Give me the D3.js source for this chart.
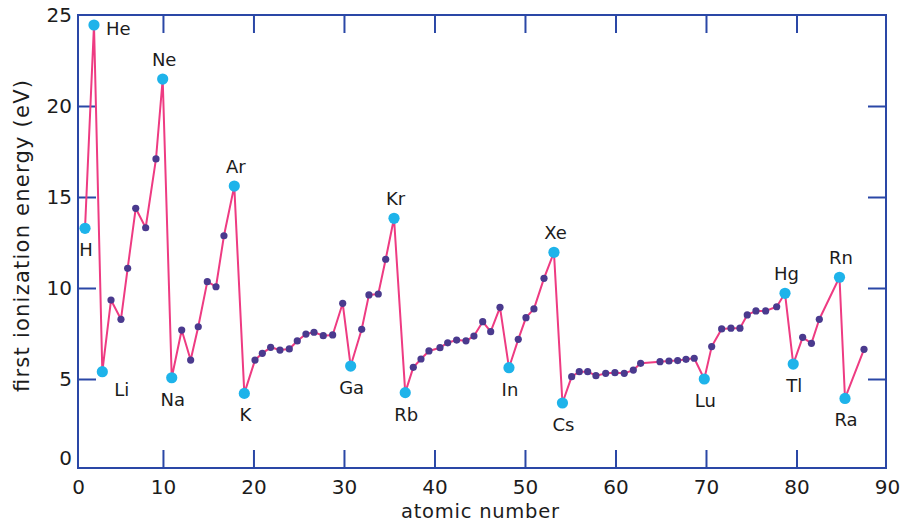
<!DOCTYPE html>
<html><head><meta charset="utf-8">
<script src="https://cdn.jsdelivr.net/npm/d3@7"></script>
<style>
html,body{margin:0;padding:0;background:#fff;}
svg{display:block;font-family:"DejaVu Sans",sans-serif;}
</style></head><body>
<svg id="chart" width="902" height="523"></svg>
<script>
// ---- data ----
const atomicNumber = [
  1.39, 2.38, 3.30, 4.26, 5.36, 6.10, 6.99, 8.09, 9.23, 9.97,
  10.97, 12.07, 13.06, 13.90, 14.90, 15.86, 16.74, 17.88, 18.99,
  20.17, 20.98, 21.90, 22.93, 23.96, 24.84, 25.80, 26.69, 27.71, 28.75, 29.86,
  30.74, 31.96, 32.76, 33.79, 34.61, 35.53, 36.77,
  37.66, 38.51, 39.39, 40.61, 41.46, 42.45, 43.48, 44.36, 45.33, 46.21, 47.24,
  48.23, 49.26, 50.11, 50.99, 52.10, 53.20, 54.14,
  55.16, 56.00, 56.93, 57.84, 58.92, 59.94, 60.97, 61.97, 62.78,
  64.92, 65.91, 66.87, 67.79, 68.70, 69.81,
  70.63, 71.73, 72.76, 73.75, 74.56, 75.52, 76.59, 77.81, 78.73,
  79.64, 80.68, 81.65, 82.52, 84.75, 85.36, 87.46
];
const ionizationEnergy = [
  13.28, 24.45, 5.40, 9.34, 8.28, 11.08, 14.38, 13.31, 17.09, 21.48,
  5.07, 7.69, 6.04, 7.87, 10.35, 10.07, 12.87, 15.60, 4.21,
  6.04, 6.41, 6.74, 6.59, 6.65, 7.09, 7.47, 7.57, 7.38, 7.42, 9.16,
  5.71, 7.73, 9.62, 9.67, 11.58, 13.83, 4.25,
  5.64, 6.10, 6.54, 6.72, 6.99, 7.14, 7.10, 7.36, 8.15, 7.60, 8.94,
  5.62, 7.18, 8.37, 8.85, 10.53, 11.96, 3.68,
  5.13, 5.40, 5.40, 5.18, 5.31, 5.35, 5.31, 5.49, 5.86,
  5.95, 5.99, 6.01, 6.08, 6.14, 5.00,
  6.78, 7.75, 7.79, 7.79, 8.52, 8.74, 8.74, 8.97, 9.71,
  5.82, 7.29, 6.96, 8.28, 10.59, 3.93, 6.63
];
const labelNames = ["H","He","Li","Ne","Na","Ar","K","Ga","Kr","Rb","In","Xe","Cs","Lu","Hg","Tl","Rn","Ra"];
const labelIndex = [0,1,2,9,10,17,18,30,35,36,48,53,54,69,78,79,83,84];
const labelSide  = ["below","right","belowRight","above","below","above","below","below","above",
                    "below","below","above","below","below","above","below","above","below"];
const xTickValues = [0,10,20,30,40,50,60,70,80,90];
const yTickValues = [0,5,10,15,20,25];
const xTitle = "atomic number";
const yTitle = "first ionization energy (eV)";

// ---- layout & style ----
const frame = {left:78, right:886, top:15, bottom:468};
const axisColor = "#2a47a6", lineColor = "#ee3b82", dotColor = "#4a3a8e", hiColor = "#1eb3ea", textColor = "#1c1c1c";

const x = d3.scaleLinear().domain([0,90]).range([72.45, 887]);
const y = d3.scaleLinear().domain([0,25]).range([470, 15]);

const svg = d3.select("#chart");

// frame
svg.append("rect")
  .attr("x", frame.left).attr("y", frame.top)
  .attr("width", frame.right-frame.left).attr("height", frame.bottom-frame.top)
  .attr("fill","none").attr("stroke", axisColor).attr("stroke-width", 2);

function styleAxis(g){
  g.select(".domain").remove();
  g.selectAll("line").attr("stroke", axisColor).attr("stroke-width", 2);
  g.selectAll("text").attr("fill", textColor).attr("font-size", 20).attr("font-family", '"DejaVu Sans",sans-serif');
}

// bottom axis (ticks inside)
const gx = svg.append("g").attr("transform", `translate(0,${frame.bottom})`)
  .call(d3.axisBottom(x).tickValues(xTickValues).tickSize(-18).tickPadding(12).tickFormat(d3.format("d")))
  .call(styleAxis);
gx.selectAll(".tick").filter(d => d===0 || d===90).select("line").remove();
gx.selectAll(".tick").filter(d => d===0).select("text").attr("dx", frame.left - x(0));

// top ticks
svg.append("g").attr("transform", `translate(0,${frame.top})`)
  .call(d3.axisTop(x).tickValues(xTickValues.filter(d=>d>0&&d<90)).tickSize(-18).tickFormat(""))
  .call(styleAxis);

// left axis
const gy = svg.append("g").attr("transform", `translate(${frame.left},0)`)
  .call(d3.axisLeft(y).tickValues(yTickValues).tickSize(-18).tickPadding(6).tickFormat(d3.format("d")))
  .call(styleAxis);
gy.selectAll(".tick").filter(d => d===0 || d===25).select("line").remove();
gy.selectAll(".tick").filter(d => d===0).select("text").attr("dy", "-0.28em");

// right ticks
svg.append("g").attr("transform", `translate(${frame.right},0)`)
  .call(d3.axisRight(y).tickValues(yTickValues.filter(d=>d>0&&d<25)).tickSize(-18).tickFormat(""))
  .call(styleAxis);

// line
const idx = d3.range(atomicNumber.length);
svg.append("path")
  .attr("d", d3.line().x(i => x(atomicNumber[i])).y(i => y(ionizationEnergy[i]))(idx))
  .attr("fill","none").attr("stroke", lineColor).attr("stroke-width", 2).attr("stroke-linejoin","round");

// dots
const hiSet = new Set(labelIndex);
svg.append("g").selectAll("circle").data(idx.filter(i => !hiSet.has(i))).join("circle")
  .attr("cx", i => x(atomicNumber[i])).attr("cy", i => y(ionizationEnergy[i]))
  .attr("r", 3.6).attr("fill", dotColor);
svg.append("g").selectAll("circle").data(labelIndex).join("circle")
  .attr("cx", i => x(atomicNumber[i])).attr("cy", i => y(ionizationEnergy[i]))
  .attr("r", 5.6).attr("fill", hiColor);

// element labels
const offs = {
  below:      {dx: 1,  dy: 28,  anchor: "middle"},
  above:      {dx: 1.5,dy: -13, anchor: "middle"},
  right:      {dx: 12, dy: 10,  anchor: "start"},
  belowRight: {dx: 12, dy: 24,  anchor: "start"}
};
svg.append("g").selectAll("text").data(labelIndex).join("text")
  .attr("x", (i,k) => x(atomicNumber[i]) + offs[labelSide[k]].dx)
  .attr("y", (i,k) => y(ionizationEnergy[i]) + offs[labelSide[k]].dy)
  .attr("text-anchor", (i,k) => offs[labelSide[k]].anchor)
  .attr("font-size", 18).attr("fill", textColor)
  .text((i,k) => labelNames[k]);

// axis titles
svg.append("text")
  .attr("x", (frame.left+frame.right)/2 - 2).attr("y", 518)
  .attr("text-anchor","middle").attr("font-size", 19.5).attr("fill", textColor)
  .attr("textLength", 158).attr("lengthAdjust", "spacing")
  .text(xTitle);
svg.append("text")
  .attr("transform", `translate(29,236) rotate(-90)`)
  .attr("text-anchor","middle").attr("font-size", 21).attr("fill", textColor)
  .attr("textLength", 312).attr("lengthAdjust", "spacing")
  .text(yTitle);
</script>
</body></html>
